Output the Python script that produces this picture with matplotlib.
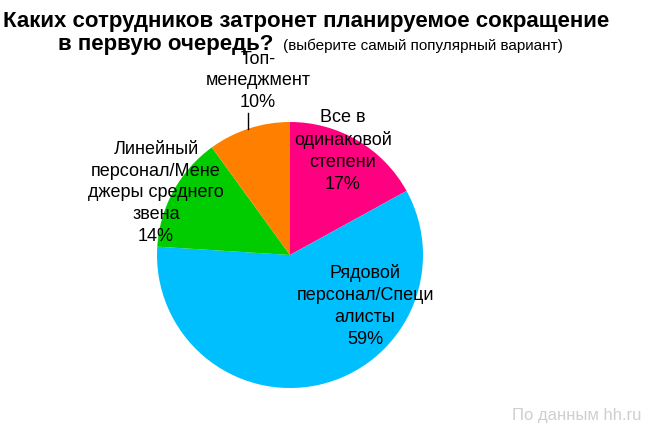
import matplotlib.pyplot as plt

# данные
labels = ["Все в\nодинаковой\nстепени", "Рядовой\nперсонал/Специ\nалисты",
          "Линейный\nперсонал/Мене\nджеры среднего\nзвена", "Топ-\nменеджмент"]
shares = [17, 59, 14, 10]
colors = ["#FF0080", "#00BFFF", "#00CC00", "#FF8000"]

FONT = 'Liberation Sans'
W, H = 650, 432
cx, cy, R = 290, 255, 133  # центр и радиус пирога в пикселях

fig = plt.figure(figsize=(W / 100, H / 100), dpi=100)
ax = fig.add_axes([0, 0, 1, 1])
ax.pie(shares, colors=colors, startangle=90, counterclock=False, radius=1,
       wedgeprops=dict(linewidth=0))
ax.set_xlim(-cx / R, (W - cx) / R)
ax.set_ylim((cy - H) / R, cy / R)
ax.set_aspect('auto')
ax.axis('off')


def px(x, y):
    return (x - cx) / R, (cy - y) / R


# подписи секторов (позиции в пикселях)
label_pos = [(343, 151), (365, 306), (156, 193), (258, 81)]
for lab, val, (x, y) in zip(labels, shares, label_pos):
    ax.text(*px(x, y), f"{lab}\n{val}%", ha='center', va='center',
            fontsize=13, family=FONT, linespacing=1.36)

# выноска к "Топ-менеджмент"
ax.plot(*zip(px(248, 113), px(248, 129)), color='black', lw=1)

fig.text(3 / W, 1 - 27 / H, "Каких сотрудников затронет планируемое сокращение",
         fontsize=16, fontweight='bold', family=FONT, ha='left')
fig.text(58 / W, 1 - 50 / H, "в первую очередь?",
         fontsize=16, fontweight='bold', family=FONT, ha='left')
fig.text(283 / W, 1 - 50 / H, "(выберите самый популярный вариант)",
         fontsize=11, family=FONT, ha='left')
fig.text(642 / W, 1 - 420 / H, "По данным hh.ru", fontsize=12,
         color='#CFCFCF', family=FONT, ha='right')

fig.savefig("out.png", dpi=100)
